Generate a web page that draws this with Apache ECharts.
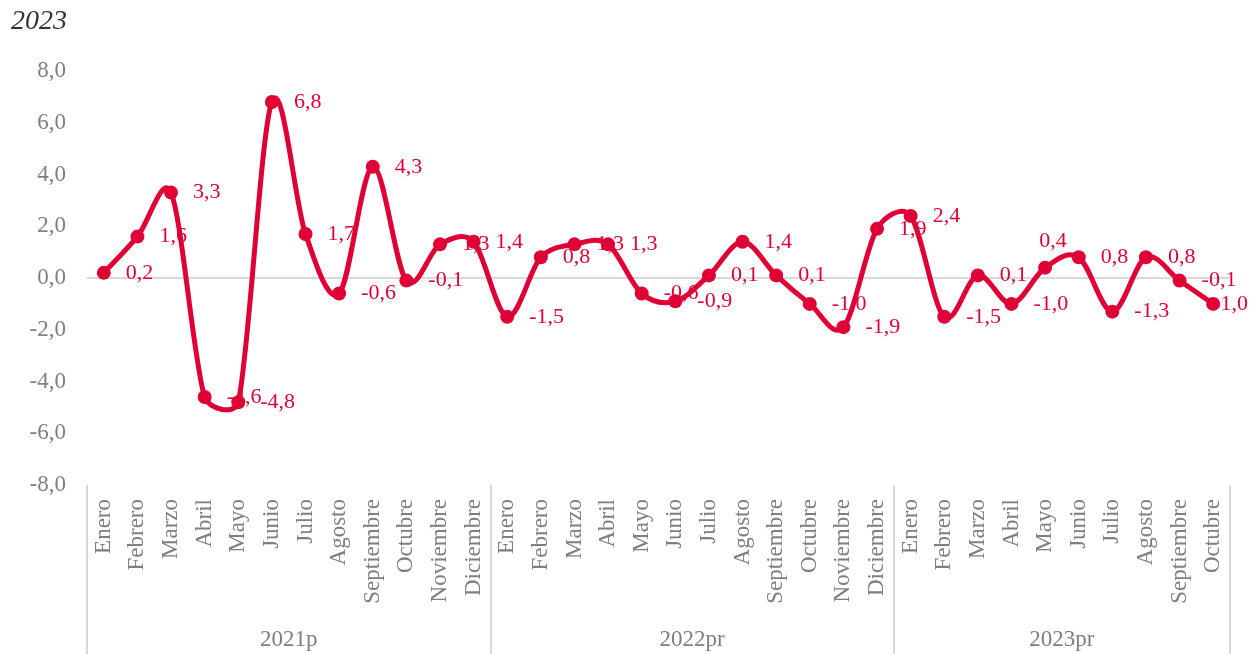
<!DOCTYPE html>
<html>
<head>
<meta charset="utf-8">
<script src="https://cdn.jsdelivr.net/npm/echarts@6/dist/echarts.min.js"></script>
<style>
html,body{margin:0;padding:0;background:#fff;}
#chart{width:1260px;height:654px;}
</style>
</head>
<body>
<div id="chart"></div>
<script>
const years = ['2021p', '2022pr', '2023pr'];
const months2021 = ['Enero','Febrero','Marzo','Abril','Mayo','Junio','Julio','Agosto','Septiembre','Octubre','Noviembre','Diciembre'];
const months2022 = ['Enero','Febrero','Marzo','Abril','Mayo','Junio','Julio','Agosto','Septiembre','Octubre','Noviembre','Diciembre'];
const months2023 = ['Enero','Febrero','Marzo','Abril','Mayo','Junio','Julio','Agosto','Septiembre','Octubre'];
const values2021 = [0.2, 1.6, 3.3, -4.6, -4.8, 6.8, 1.7, -0.6, 4.3, -0.1, 1.3, 1.4];
const values2022 = [-1.5, 0.8, 1.3, 1.3, -0.6, -0.9, 0.1, 1.4, 0.1, -1.0, -1.9, 1.9];
const values2023 = [2.4, -1.5, 0.1, -1.0, 0.4, 0.8, -1.3, 0.8, -0.1, -1.0];
const yTicks = [-8, -6, -4, -2, 0, 2, 4, 6, 8];

const groups = [months2021, months2022, months2023];
const categories = [].concat(months2021, months2022, months2023);
const values = [].concat(values2021, values2022, values2023);
const boundaries = [0];
groups.forEach(g => boundaries.push(boundaries[boundaries.length - 1] + g.length));
const centers = groups.map((g, i) => (boundaries[i] + boundaries[i + 1]) / 2);
const total = categories.length;

const RED = '#DF0036';
const GRAY = '#7F7F7F';
const FONT = 'Liberation Serif';
const fmt = v => Number(v).toFixed(1).replace('.', ',');

// label placements that differ from the default "right" placement
const aboveIndex = months2021.length + months2022.length + months2023.indexOf('Mayo');
const lastIndex = total - 1;

// Excel-like smoothed segment (Bezier with neighbour-based tangents)
function smoothSegment(params, api) {
  const i = params.dataIndex;
  if (i >= total - 1) return null;
  const P = k => {
    const kk = Math.max(0, Math.min(total - 1, k));
    return api.coord([kk, values[kk]]);
  };
  const p0 = P(i - 1), p1 = P(i), p2 = P(i + 1), p3 = P(i + 2);
  const segLen = Math.hypot(p2[0] - p1[0], p2[1] - p1[1]);
  const K = 0.4;
  function tangent(a, b) {
    let tx = (b[0] - a[0]) / 6, ty = (b[1] - a[1]) / 6;
    const l = Math.hypot(tx, ty);
    const lim = K * segLen;
    if (l > lim && l > 0) { tx *= lim / l; ty *= lim / l; }
    return [tx, ty];
  }
  const t1 = tangent(p0, p2);
  const t2 = tangent(p1, p3);
  const c1 = [p1[0] + t1[0], p1[1] + t1[1]];
  const c2 = [p2[0] - t2[0], p2[1] - t2[1]];
  return {
    type: 'path',
    shape: {
      pathData: 'M' + p1[0] + ' ' + p1[1] + ' C' + c1[0] + ' ' + c1[1] + ' ' + c2[0] + ' ' + c2[1] + ' ' + p2[0] + ' ' + p2[1]
    },
    style: {stroke: RED, lineWidth: 5, fill: null, lineCap: 'round', lineJoin: 'round'},
    silent: true
  };
}

const chart = echarts.init(document.getElementById('chart'), null, {renderer: 'canvas'});
chart.setOption({
  animation: false,
  backgroundColor: '#fff',
  title: {
    text: '2023',
    left: 6,
    top: 3,
    textStyle: {fontFamily: FONT, fontStyle: 'italic', fontWeight: 'normal', fontSize: 28, color: '#333'}
  },
  grid: {left: 87, right: 30, top: 71, bottom: 169, containLabel: false},
  xAxis: [
    {
      type: 'category',
      data: categories,
      boundaryGap: true,
      position: 'bottom',
      axisLine: {show: false},
      axisTick: {show: false},
      axisLabel: {
        interval: 0, rotate: 90, margin: 14,
        fontFamily: FONT, fontSize: 23, color: GRAY
      },
      splitLine: {show: false}
    },
    {
      type: 'value',
      min: 0,
      max: total,
      position: 'bottom',
      axisLine: {show: false},
      axisTick: {
        show: true, inside: false, length: 169,
        customValues: boundaries,
        lineStyle: {color: '#D9D9D9', width: 2}
      },
      axisLabel: {
        show: true, margin: 143,
        customValues: centers,
        formatter: v => {
          const i = centers.indexOf(v);
          return i >= 0 ? years[i] : '';
        },
        fontFamily: FONT, fontSize: 23, color: GRAY
      },
      splitLine: {show: false}
    }
  ],
  yAxis: {
    type: 'value',
    min: yTicks[0],
    max: yTicks[yTicks.length - 1],
    interval: 2,
    axisLine: {show: false},
    axisTick: {show: false},
    splitLine: {show: false},
    axisLabel: {
      formatter: fmt, margin: 21,
      fontFamily: FONT, fontSize: 23, color: GRAY
    }
  },
  series: [
    {
      type: 'custom',
      xAxisIndex: 0,
      renderItem: smoothSegment,
      data: values.map((v, i) => [i, v]),
      encode: {x: 0, y: 1},
      z: 2,
      silent: true,
      markLine: {
        silent: true,
        symbol: 'none',
        z: 1,
        label: {show: false},
        lineStyle: {color: '#D9D9D9', width: 2, type: 'solid'},
        data: [{yAxis: 0}]
      }
    },
    {
      type: 'line',
      xAxisIndex: 0,
      data: values.map((v, i) => {
        if (i === aboveIndex) return {value: v, label: {position: 'top', distance: 8, offset: [8, 0]}};
        if (i === lastIndex) return {value: v, label: {offset: [-22, 0]}};
        return v;
      }),
      symbol: 'circle',
      symbolSize: 14,
      lineStyle: {width: 0, opacity: 0},
      itemStyle: {color: RED},
      z: 3,
      label: {
        show: true,
        position: 'right',
        distance: 15,
        formatter: p => fmt(p.value),
        fontFamily: FONT, fontSize: 22, color: RED
      }
    }
  ]
});
</script>
</body>
</html>
